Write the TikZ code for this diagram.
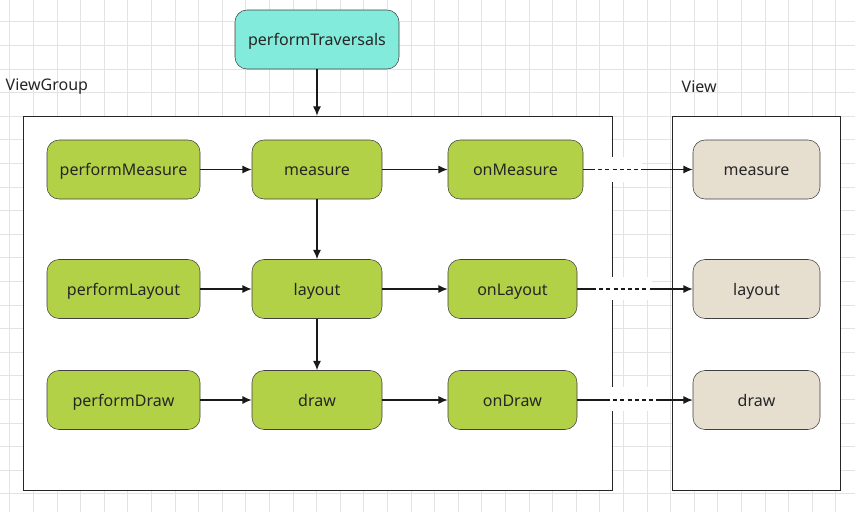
\documentclass[tikz,border=0pt]{standalone}
\usepackage{fontspec}
\setmainfont{Noto Sans}
\usetikzlibrary{arrows.meta}
\definecolor{leaf}{HTML}{B3D147}
\definecolor{aqua}{HTML}{82EBDC}
\definecolor{sand}{HTML}{E6DFD0}
\begin{document}
\begin{tikzpicture}[x=0.75pt,y=-0.75pt,>={Latex[length=7pt,width=6pt]}]
		\tikzstyle{box}=[draw=black!75,rounded corners=9pt,minimum height=44.25pt,text height=11pt,text depth=1.8pt,text=black!85,font=\fontsize{12}{14}\selectfont]
		\tikzstyle{frame}=[draw=black!85,fill=white,minimum height=280.5pt]
		\tikzstyle{edge}=[draw=black!90,line width=0.9pt]
		\tikzstyle{dashedge}=[draw=black!90,line width=0.8pt,dash pattern=on 3pt off 2.4pt]

		\useasboundingbox (0,0) rectangle (855,512);
		\fill[white] (0,0) rectangle (855,512);
		% grid
		\foreach \i in {0,...,36} \draw[gray!22] ({9.7+23.6*\i},0) -- ({9.7+23.6*\i},512);
		\foreach \j in {0,...,20} \draw[gray!22] (0,{21.7+23.6*\j}) -- (855,{21.7+23.6*\j});

		\node [frame,minimum width=441.75pt] (vg) at (317.5,303) {};
		\node [frame,minimum width=126pt] (v) at (756,303) {};
		\node [anchor=west,text=black!85,font=\fontsize{12}{14}\selectfont] (vgtext) at (1,87) {ViewGroup};
		\node [anchor=west,text=black!85,font=\fontsize{12}{14}\selectfont] (vtext) at (677,87) {View};

		\node [box,fill=aqua,minimum width=123pt] (pt) at (317,39.5) {performTraversals};

		\node [box,fill=leaf,minimum width=114.75pt] (pm) at (123.5,169.5) {performMeasure};
		\node [box,fill=leaf,minimum width=97.5pt] (m) at (317,169.5) {measure};
		\node [box,fill=leaf,minimum width=101.25pt] (om) at (515.5,169.5) {onMeasure};

		\node [box,fill=leaf,minimum width=114.75pt] (pl) at (123.5,289) {performLayout};
		\node [box,fill=leaf,minimum width=97.5pt] (l) at (317,289) {layout};
		\node [box,fill=leaf,minimum width=96.75pt] (ol) at (512.5,289) {onLayout};

		\node [box,fill=leaf,minimum width=114.75pt] (pd) at (123.5,400) {performDraw};
		\node [box,fill=leaf,minimum width=97.5pt] (d) at (317,400) {draw};
		\node [box,fill=leaf,minimum width=96.75pt] (od) at (512.5,400) {onDraw};

		\node [box,fill=sand,minimum width=95.25pt] (vm) at (756.5,169.5) {measure};
		\node [box,fill=sand,minimum width=95.25pt] (vl) at (756.5,289) {layout};
		\node [box,fill=sand,minimum width=95.25pt] (vd) at (756.5,400) {draw};

		\path[edge,->] (pt) -- (pt |- vg.north);
		\path[edge,->] (pm) -- (m);
		\path[edge,->] (m) -- (om);
		\path[edge,->] (pl) -- (l);
		\path[edge,->] (l) -- (ol);
		\path[edge,->] (pd) -- (d);
		\path[edge,->] (d) -- (od);
		\path[edge,->] (m) -- (l);
		\path[edge,->] (l) -- (d);

		% dashed links to View
		\fill[white] (591,157) rectangle (642,182);
		\fill[white] (592,277) rectangle (652,300);
		\fill[white] (606,387) rectangle (657,411);
		\coordinate (a1) at (591,169.5);
		\coordinate (b1) at (642,169.5);
		\coordinate (a2) at (592,289);
		\coordinate (b2) at (652,289);
		\coordinate (a3) at (606,400);
		\coordinate (b3) at (657,400);
		\path[edge] (om) -- (a1);
		\path[dashedge] (a1) -- (b1);
		\path[edge,->] (b1) -- (vm);
		\path[edge] (ol) -- (a2);
		\path[dashedge] (a2) -- (b2);
		\path[edge,->] (b2) -- (vl);
		\path[edge] (od) -- (a3);
		\path[dashedge] (a3) -- (b3);
		\path[edge,->] (b3) -- (vd);
\end{tikzpicture}
\end{document}
